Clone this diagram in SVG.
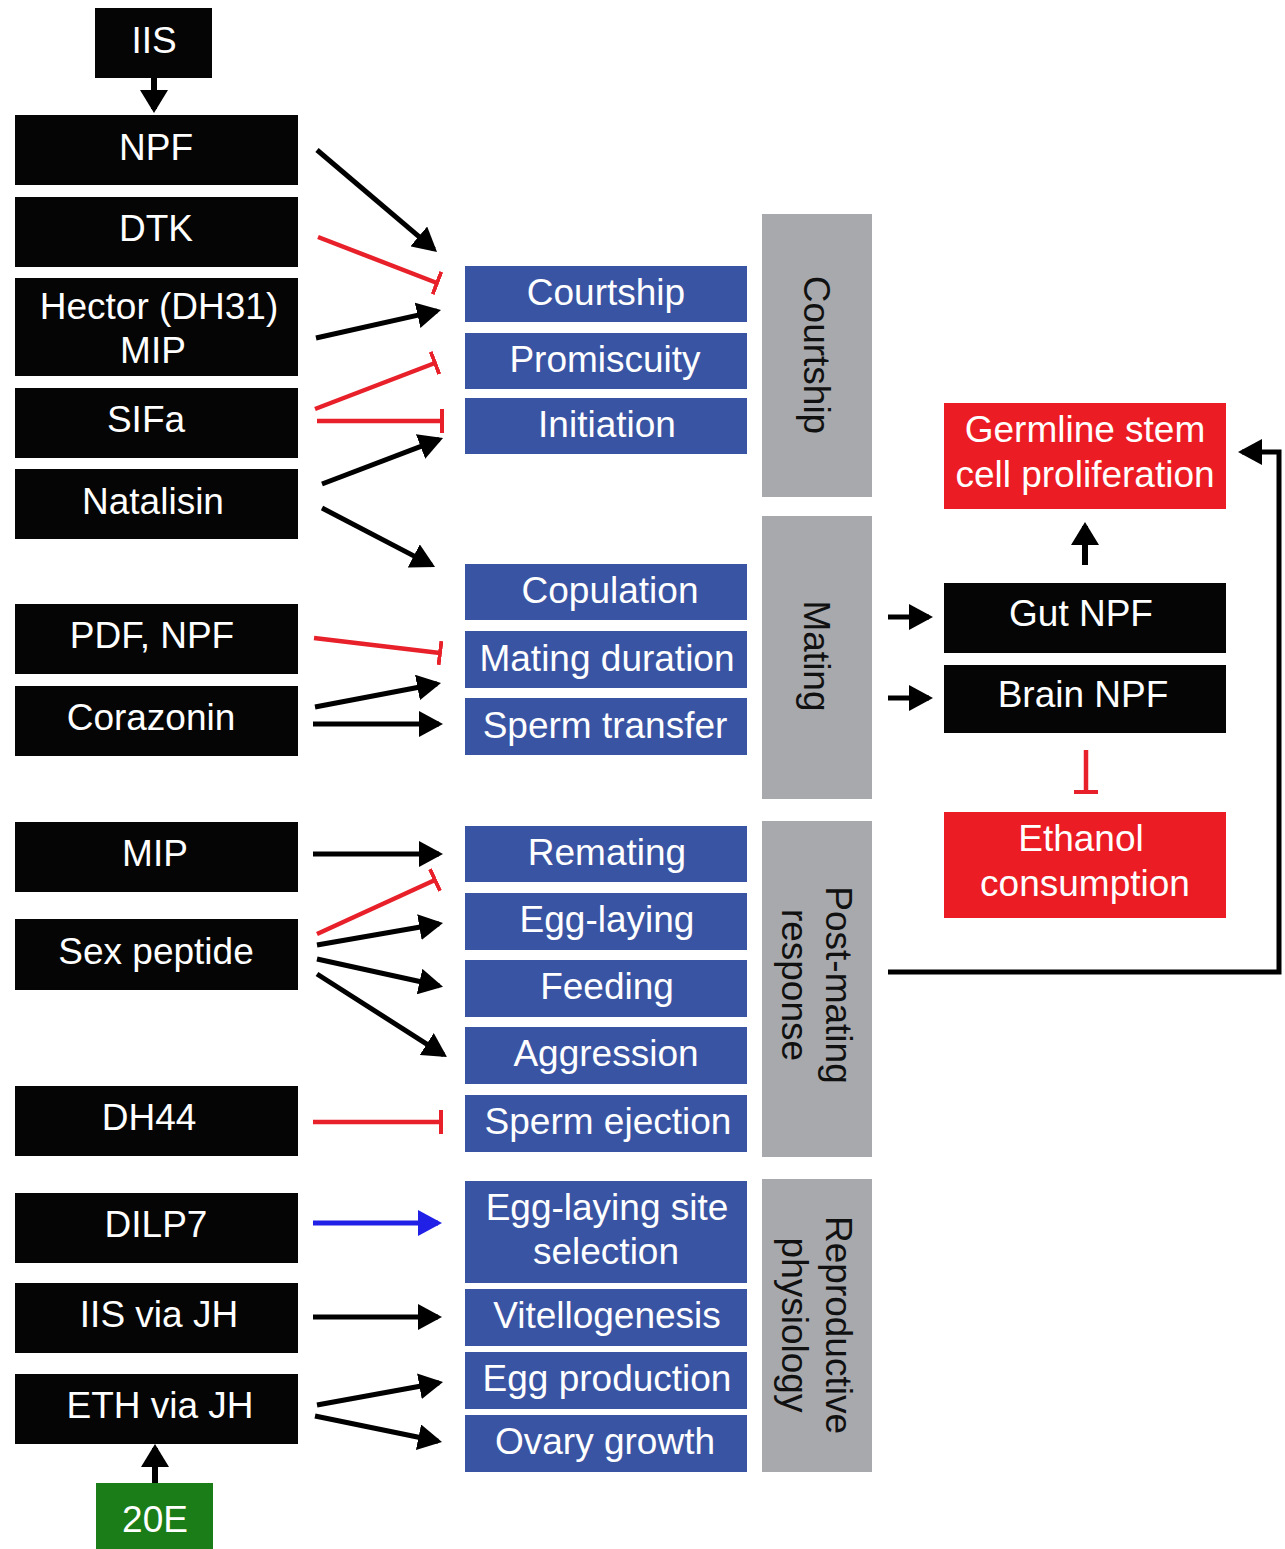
<svg xmlns="http://www.w3.org/2000/svg" width="1285" height="1549" viewBox="0 0 1285 1549">
<style>
text{font-family:"Liberation Sans",Arial,sans-serif;font-size:37px;fill:#fff;text-anchor:middle}
.blk{fill:#050505}
.blu{fill:#3a54a4}
.gry{fill:#a8a9ad}
.red{fill:#ec1c24}
.grn{fill:#1b7d18}
text.g{fill:#111}
.a{stroke:#000;stroke-width:5;fill:none;marker-end:url(#ah)}
.av{stroke:#000;stroke-width:6;fill:none;marker-end:url(#ahv)}
.i{stroke:#e8202a;stroke-width:4.5;fill:none;marker-end:url(#tb)}
.b{stroke:#2020e6;stroke-width:5;fill:none;marker-end:url(#ahb)}
</style>
<defs>
<marker id="ah" viewBox="0 0 24 26" markerWidth="24" markerHeight="26" refX="20" refY="13" orient="auto" markerUnits="userSpaceOnUse"><path d="M0,0 L24,13 L0,26 z" fill="#000"/></marker>
<marker id="ahb" viewBox="0 0 24 26" markerWidth="24" markerHeight="26" refX="20" refY="13" orient="auto" markerUnits="userSpaceOnUse"><path d="M0,0 L24,13 L0,26 z" fill="#2020e6"/></marker>
<marker id="ahv" viewBox="0 0 23 28" markerWidth="23" markerHeight="28" refX="19" refY="14" orient="auto" markerUnits="userSpaceOnUse"><path d="M0,0 L23,14 L0,28 z" fill="#000"/></marker>
<marker id="tb" viewBox="0 0 4 24" markerWidth="4" markerHeight="24" refX="2" refY="12" orient="auto" markerUnits="userSpaceOnUse"><rect x="0" y="0" width="4" height="24" fill="#e8202a"/></marker>
</defs>
<rect width="1285" height="1549" fill="#fff"/>

<g id="n-iis"><rect class="blk" x="95" y="8" width="117" height="70"/><text x="154" y="53">IIS</text></g>
<g id="n-npf"><rect class="blk" x="15" y="115" width="283" height="70"/><text x="156" y="160">NPF</text></g>
<g id="n-dtk"><rect class="blk" x="15" y="197" width="283" height="70"/><text x="156" y="241">DTK</text></g>
<g id="n-hector"><rect class="blk" x="15" y="278" width="283" height="98"/><text x="159" y="319">Hector (DH31)</text><text x="153" y="363">MIP</text></g>
<g id="n-sifa"><rect class="blk" x="15" y="388" width="283" height="70"/><text x="146" y="432">SIFa</text></g>
<g id="n-natalisin"><rect class="blk" x="15" y="469" width="283" height="70"/><text x="153" y="514">Natalisin</text></g>
<g id="n-pdf"><rect class="blk" x="15" y="604" width="283" height="70"/><text x="152" y="648">PDF, NPF</text></g>
<g id="n-corazonin"><rect class="blk" x="15" y="686" width="283" height="70"/><text x="151" y="730">Corazonin</text></g>
<g id="n-mip"><rect class="blk" x="15" y="822" width="283" height="70"/><text x="155" y="866">MIP</text></g>
<g id="n-sp"><rect class="blk" x="15" y="919" width="283" height="71"/><text x="156" y="964">Sex peptide</text></g>
<g id="n-dh44"><rect class="blk" x="15" y="1086" width="283" height="70"/><text x="149" y="1130">DH44</text></g>
<g id="n-dilp7"><rect class="blk" x="15" y="1193" width="283" height="70"/><text x="156" y="1237">DILP7</text></g>
<g id="n-iisjh"><rect class="blk" x="15" y="1283" width="283" height="70"/><text x="159" y="1327">IIS via JH</text></g>
<g id="n-ethjh"><rect class="blk" x="15" y="1374" width="283" height="70"/><text x="160" y="1418">ETH via JH</text></g>
<g id="n-20e"><rect class="grn" x="96" y="1483" width="117" height="66"/><text x="155" y="1532">20E</text></g>

<g id="n-courtship"><rect class="blu" x="465" y="266" width="282" height="56"/><text x="606" y="305">Courtship</text></g>
<g id="n-promiscuity"><rect class="blu" x="465" y="333" width="282" height="56"/><text x="605" y="372">Promiscuity</text></g>
<g id="n-initiation"><rect class="blu" x="465" y="398" width="282" height="56"/><text x="607" y="437">Initiation</text></g>
<g id="n-copulation"><rect class="blu" x="465" y="564" width="282" height="56"/><text x="610" y="603">Copulation</text></g>
<g id="n-matingdur"><rect class="blu" x="465" y="631" width="282" height="57"/><text x="607" y="671">Mating duration</text></g>
<g id="n-spermtr"><rect class="blu" x="465" y="698" width="282" height="57"/><text x="605" y="738">Sperm transfer</text></g>
<g id="n-remating"><rect class="blu" x="465" y="826" width="282" height="56"/><text x="607" y="865">Remating</text></g>
<g id="n-egglaying"><rect class="blu" x="465" y="893" width="282" height="57"/><text x="607" y="932">Egg-laying</text></g>
<g id="n-feeding"><rect class="blu" x="465" y="960" width="282" height="57"/><text x="607" y="999">Feeding</text></g>
<g id="n-aggression"><rect class="blu" x="465" y="1027" width="282" height="57"/><text x="606" y="1066">Aggression</text></g>
<g id="n-spermej"><rect class="blu" x="465" y="1095" width="282" height="57"/><text x="608" y="1134">Sperm ejection</text></g>
<g id="n-eggsite"><rect class="blu" x="465" y="1181" width="282" height="102"/><text x="607" y="1220">Egg-laying site</text><text x="606" y="1264">selection</text></g>
<g id="n-vitello"><rect class="blu" x="465" y="1289" width="282" height="57"/><text x="607" y="1328">Vitellogenesis</text></g>
<g id="n-eggprod"><rect class="blu" x="465" y="1352" width="282" height="57"/><text x="607" y="1391">Egg production</text></g>
<g id="n-ovary"><rect class="blu" x="465" y="1415" width="282" height="57"/><text x="605" y="1454">Ovary growth</text></g>

<g id="g-courtship"><rect class="gry" x="762" y="214" width="110" height="283"/><text class="g" transform="translate(817,355) rotate(90)" y="13">Courtship</text></g>
<g id="g-mating"><rect class="gry" x="762" y="516" width="110" height="283"/><text class="g" transform="translate(817,656) rotate(90)" y="13">Mating</text></g>
<g id="g-postmating"><rect class="gry" x="762" y="821" width="110" height="336"/><text class="g" transform="translate(817,985) rotate(90)"><tspan x="0" y="-9">Post-mating</tspan><tspan x="0" y="35">response</tspan></text></g>
<g id="g-repro"><rect class="gry" x="762" y="1179" width="110" height="293"/><text class="g" transform="translate(817,1325) rotate(90)"><tspan x="0" y="-9">Reproductive</tspan><tspan x="0" y="35">physiology</tspan></text></g>

<g id="n-germline"><rect class="red" x="944" y="403" width="282" height="106"/><text x="1085" y="442">Germline stem</text><text x="1085" y="487">cell proliferation</text></g>
<g id="n-gutnpf"><rect class="blk" x="944" y="583" width="282" height="70"/><text x="1081" y="626">Gut NPF</text></g>
<g id="n-brainnpf"><rect class="blk" x="944" y="665" width="282" height="68"/><text x="1083" y="707">Brain NPF</text></g>
<g id="n-ethanol"><rect class="red" x="944" y="812" width="282" height="106"/><text x="1081" y="851">Ethanol</text><text x="1085" y="896">consumption</text></g>

<g id="connectors">
<line class="av" x1="154" y1="78" x2="154" y2="109"/>
<line class="av" x1="155" y1="1483" x2="155" y2="1448"/>
<line class="a" x1="317" y1="150" x2="434" y2="249.4"/>
<line class="i" x1="318" y1="237" x2="437" y2="283"/>
<line class="a" x1="316" y1="338" x2="437.1" y2="310.9"/>
<line class="i" x1="315" y1="409" x2="435" y2="363"/>
<line class="i" x1="317" y1="421" x2="442" y2="421"/>
<line class="a" x1="322" y1="484" x2="439.3" y2="439.4"/>
<line class="a" x1="322" y1="508" x2="431.5" y2="565.1"/>
<line class="i" x1="314" y1="638" x2="440" y2="653"/>
<line class="a" x1="315" y1="707" x2="437.1" y2="683.7"/>
<line class="a" x1="313" y1="724" x2="439" y2="724"/>
<line class="a" x1="313" y1="854" x2="439" y2="854"/>
<line class="i" x1="317" y1="934" x2="435" y2="880"/>
<line class="a" x1="317" y1="945" x2="439.1" y2="923.7"/>
<line class="a" x1="317" y1="959" x2="439.1" y2="985.8"/>
<line class="a" x1="317" y1="974" x2="443.6" y2="1054.8"/>
<line class="i" x1="313" y1="1122" x2="441" y2="1122"/>
<line class="b" x1="313" y1="1223" x2="438" y2="1223"/>
<line class="a" x1="313" y1="1317" x2="438" y2="1317"/>
<line class="a" x1="317" y1="1405" x2="439.1" y2="1382.7"/>
<line class="a" x1="315" y1="1416" x2="438.1" y2="1441.2"/>
<line class="a" x1="888" y1="617" x2="929" y2="617"/>
<line class="a" x1="888" y1="698" x2="929" y2="698"/>
<line class="av" x1="1085" y1="565" x2="1085" y2="526"/>
<line class="i" x1="1086" y1="750" x2="1086" y2="792"/>
<polyline class="a" points="888,972 1279,972 1279,452 1242,452"/>
</g>
</svg>
